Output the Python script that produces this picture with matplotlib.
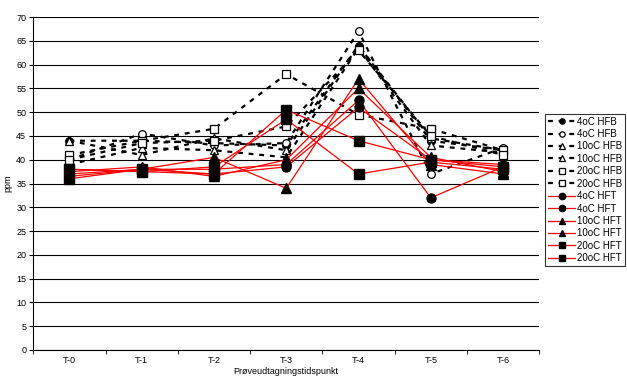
import numpy as np
import matplotlib.pyplot as plt
plt.switch_backend('agg')
plt.rcParams['font.family'] = ['Liberation Sans', 'DejaVu Sans']

categories = ['T-0', 'T-1', 'T-2', 'T-3', 'T-4', 'T-5', 'T-6']

# HFB series (black dashed)
hfb_4c_a = [44.0, 44.0, 43.5, 43.0, 64.0, 44.0, 42.0]
hfb_4c_b = [40.0, 45.5, 43.0, 43.5, 67.0, 37.0, 42.5]
hfb_10c_a = [44.0, 41.0, 44.5, 42.0, 64.0, 44.5, 42.0]
hfb_10c_b = [39.0, 42.5, 42.0, 40.5, 63.5, 43.0, 41.5]
hfb_20c_a = [41.0, 44.0, 46.5, 58.0, 49.5, 46.5, 42.0]
hfb_20c_b = [40.0, 43.5, 44.0, 47.0, 63.0, 45.0, 41.0]

# HFT series (red solid)
hft_4c_a = [37.0, 38.0, 38.0, 39.0, 52.5, 32.0, 38.5]
hft_4c_b = [38.0, 37.5, 37.0, 38.5, 51.0, 40.0, 39.0]
hft_10c_a = [36.5, 38.0, 40.5, 34.0, 57.0, 39.0, 37.0]
hft_10c_b = [37.5, 38.5, 36.5, 40.0, 55.0, 40.5, 37.5]
hft_20c_a = [36.0, 38.0, 37.0, 50.5, 44.0, 40.0, 38.5]
hft_20c_b = [38.0, 37.5, 38.5, 48.5, 37.0, 39.5, 38.0]

hfb = [
    (hfb_4c_a, '4oC HFB', 'o', 'black'),
    (hfb_4c_b, '4oC HFB', 'o', 'white'),
    (hfb_10c_a, '10oC HFB', '^', 'white'),
    (hfb_10c_b, '10oC HFB', '^', 'white'),
    (hfb_20c_a, '20oC HFB', 's', 'white'),
    (hfb_20c_b, '20oC HFB', 's', 'white'),
]
hft = [
    (hft_4c_a, '4oC HFT', 'o'),
    (hft_4c_b, '4oC HFT', 'o'),
    (hft_10c_a, '10oC HFT', '^'),
    (hft_10c_b, '10oC HFT', '^'),
    (hft_20c_a, '20oC HFT', 's'),
    (hft_20c_b, '20oC HFT', 's'),
]

fig = plt.figure(figsize=(6.27, 3.88), dpi=100)
ax = fig.add_axes([0.053, 0.098, 0.807, 0.858])
x = np.arange(len(categories))

for vals, label, m, fc in hfb:
    ax.plot(x, vals, linestyle=(0, (2.2, 2.6)), linewidth=1.6, color='black',
            marker=m, markersize=5.5, markerfacecolor=fc, markeredgecolor='black',
            markeredgewidth=0.9, label=label, zorder=3)
for vals, label, m in hft:
    ax.plot(x, vals, linestyle='-', linewidth=0.9, color='red',
            marker=m, markersize=6.5, markerfacecolor='black', markeredgecolor='black',
            label=label, zorder=4)

ax.set_xlim(-0.5, len(categories) - 0.5)
ax.set_ylim(0, 70)
ax.set_yticks(range(0, 71, 5))
ax.yaxis.grid(True, color='black', linewidth=0.8)
ax.set_axisbelow(True)
ax.set_xticks(x)
ax.set_xticklabels(categories, fontsize=6.5)
ax.set_xticks(np.arange(-0.5, len(categories), 1), minor=True)
ax.tick_params(axis='x', which='major', length=0, pad=4)
ax.tick_params(axis='x', which='minor', length=3, direction='out')
ax.tick_params(axis='y', labelsize=6.5, length=3, direction='out', pad=2)
for s in ['top', 'right']:
    ax.spines[s].set_visible(False)
ax.set_xlabel('Prøveudtagningstidspunkt', fontsize=6.5, labelpad=2)
ax.set_ylabel('ppm', fontsize=6.5, labelpad=3)

leg = ax.legend(loc='upper left', bbox_to_anchor=(1.012, 0.71), fontsize=7,
                frameon=True, fancybox=False, edgecolor='black', borderpad=0.3,
                labelspacing=0.25, handlelength=2.8, handletextpad=0.2,
                borderaxespad=0, markerscale=0.7)
leg.get_frame().set_linewidth(0.8)

fig.savefig('out.png', dpi=100)
